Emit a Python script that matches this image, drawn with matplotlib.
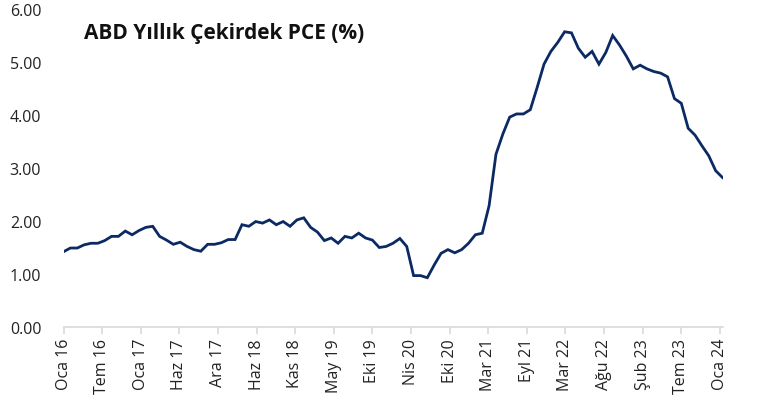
import numpy as np
import matplotlib
matplotlib.use("Agg")
import matplotlib.pyplot as plt

plt.rcParams['font.family'] = ['Open Sans', 'DejaVu Sans']

# monthly core PCE, y/y %, Jan 2016 .. Jan 2024
core_pce = [
    1.42, 1.49, 1.49, 1.55, 1.58, 1.58, 1.63, 1.71, 1.71, 1.81, 1.74, 1.82,
    1.88, 1.90, 1.71, 1.64, 1.56, 1.60, 1.52, 1.46, 1.43, 1.56, 1.56, 1.59,
    1.65, 1.65, 1.93, 1.90, 1.99, 1.96, 2.02, 1.93, 1.99, 1.90, 2.02, 2.06,
    1.88, 1.79, 1.63, 1.68, 1.58, 1.71, 1.68, 1.77, 1.68, 1.64, 1.50, 1.52,
    1.58, 1.67, 1.52, 0.97, 0.97, 0.93, 1.17, 1.39, 1.46, 1.40, 1.46, 1.58,
    1.74, 1.77, 2.29, 3.26, 3.64, 3.96, 4.02, 4.02, 4.10, 4.52, 4.96, 5.20,
    5.37, 5.57, 5.55, 5.26, 5.09, 5.20, 4.96, 5.18, 5.50, 5.32, 5.11, 4.87,
    4.94, 4.87, 4.82, 4.79, 4.72, 4.31, 4.22, 3.75, 3.62, 3.42, 3.23, 2.95,
    2.82,
]

tick_labels = ["Oca 16", "Tem 16", "Oca 17", "Haz 17", "Ara 17", "Haz 18",
               "Kas 18", "May 19", "Eki 19", "Nis 20", "Eki 20", "Mar 21",
               "Eyl 21", "Mar 22", "Ağu 22", "Şub 23", "Tem 23", "Oca 24"]

y_ticks = [0, 1, 2, 3, 4, 5, 6]

months = np.arange(len(core_pce))

fig = plt.figure(figsize=(7.57, 4.06), dpi=100)
ax = fig.add_axes([63.5 / 757, 78 / 406, 659 / 757, 318 / 406])

ax.plot(months, core_pce, color="#0b2a63", lw=2.0, solid_joinstyle="miter")

ax.set_xlim(0, len(core_pce) - 1)
ax.set_ylim(0, 6)

# excel date axis: evenly spaced ticks, slightly shorter than the full span
ax.set_xticks(np.linspace(0, 95.6, len(tick_labels)))
ax.set_xticklabels(tick_labels, rotation=90, fontsize=11.5, color="#222222")
ax.set_yticks(y_ticks)
ax.set_yticklabels([f"{v:.2f}" for v in y_ticks], fontsize=11.5, color="#222222")

for s in ["top", "right", "left"]:
    ax.spines[s].set_visible(False)
ax.spines["bottom"].set_color("#d9d9d9")
ax.spines["bottom"].set_linewidth(1.2)
ax.tick_params(axis="x", direction="out", length=5, width=1.2, color="#d9d9d9", pad=3)
ax.tick_params(axis="y", length=0, pad=16)

fig.text(84 / 757, 1 - 33 / 406, "ABD Yıllık Çekirdek PCE (%)", fontsize=15,
         fontweight="bold", va="center", ha="left", color="#111111")

fig.savefig("out.png", dpi=100)
